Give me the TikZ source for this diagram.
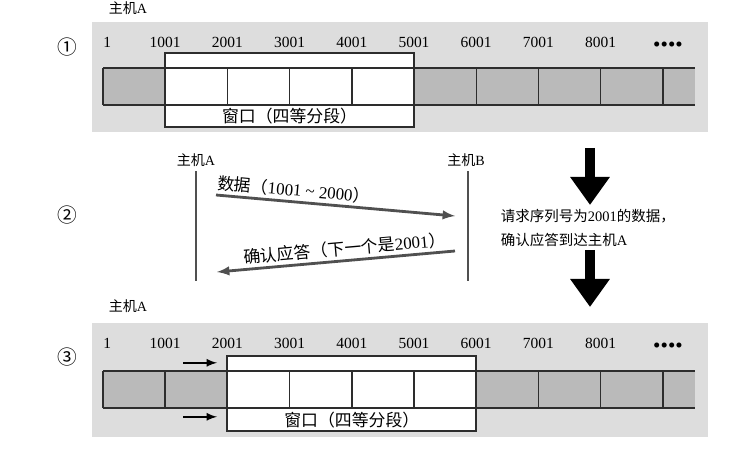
\documentclass[tikz,border=0pt]{standalone}
\usepackage{fontspec}
\setmainfont{Liberation Serif}
\newfontfamily\cjk{Noto Sans CJK SC}
\usetikzlibrary{arrows.meta}
\usetikzlibrary{calc}
\tikzset{>=latex}
\definecolor{panelgray}{RGB}{221,221,221}
\definecolor{cellgray}{RGB}{186,186,186}
\definecolor{framegray}{RGB}{45,45,45}
\definecolor{msggray}{RGB}{80,80,80}
\tikzstyle{panel}=[fill=panelgray]
\tikzstyle{cell}=[fill=cellgray]
\tikzstyle{cellline}=[draw=framegray,line width=1pt]
\tikzstyle{winbox}=[fill=white,draw=framegray,line width=1.3pt]
\tikzstyle{seqnum}=[font=\fontsize{11}{13}\selectfont,inner sep=0pt]
\tikzstyle{zh}=[font=\cjk\fontsize{10}{12}\selectfont]
\tikzstyle{zhbig}=[font=\cjk\fontsize{12}{14}\selectfont]
\tikzstyle{stepno}=[font=\cjk\fontsize{14}{16}\selectfont]
\tikzstyle{msg}=[draw=msggray,line width=2pt,->]
\tikzstyle{lifeline}=[draw=msggray,line width=2pt]
\tikzstyle{slide}=[draw=black,line width=1.5pt,->]
\tikzstyle{bigarrow}=[draw=black,line width=7pt,-{Triangle[width=27pt,length=20pt]}]

\begin{document}
\begin{tikzpicture}
  \useasboundingbox (0,0) rectangle (18.65,11.2);

  % (1) window at 1001
  \node[stepno] (step1) at (1.675,10.025) {①};
  \node[zh] (hostA1) at (3.2,11.0) {主机\rmfamily A};
  \fill[panel] (2.3,7.9) rectangle (17.7,10.65);
  \fill[cell] (2.575,8.575) rectangle (17.375,9.5);
  \draw[winbox] (4.13,8.025) rectangle (10.35,9.875) node[zhbig,pos=.5,yshift=-0.65cm] (win1) {窗口（四等分段）};
  \draw[cellline] (2.575,8.575) -- (17.375,8.575) (2.575,9.5) -- (17.375,9.5);
  \foreach \i in {0,...,9} \draw[cellline] ({2.575+1.555*\i},8.575) -- +(0,0.925);
  \node[seqnum,anchor=west] (n1-0) at (2.575,10.15) {1};
  \foreach \i in {1,...,8} \node[seqnum] (n1-\i) at ({2.575+1.555*\i},10.15) {\i001};
  \node[seqnum,font=\fontsize{15}{17}\selectfont] (more1) at (16.7,10.02) {••••};

  % (2) data and ack
  \node[stepno] (step2) at (1.675,5.825) {②};
  \node[zh] (hostA) at (4.9,7.2) {主机\rmfamily A};
  \node[zh] (hostB) at (11.65,7.2) {主机\rmfamily B};
  \coordinate (endA) at (4.9,4.175);
  \coordinate (endB) at (11.7,4.175);
  \draw[lifeline] (hostA.south) -- (endA);
  \draw[lifeline] (hostB.south -| endB) -- (endB);
  \coordinate (dataS) at (5.4,6.325);
  \coordinate (dataE) at (11.375,5.8);
  \draw[msg] (dataS) -- (dataE) node[zhbig,pos=0.32,above,sloped,inner sep=2pt] (data) {数据（\rmfamily 1001 \textasciitilde{} 2000\cjk ）};
  \coordinate (ackS) at (5.425,4.4);
  \coordinate (ackE) at (11.375,4.925);
  \draw[msg,<-] (ackS) -- (ackE) node[zhbig,pos=0.54,above,sloped,inner sep=2pt] (ack) {确认应答（下一个是\rmfamily 2001\cjk ）};

  \coordinate (reqTop) at (14.75,7.5);
  \coordinate (reqTip) at (14.75,6.075);
  \draw[bigarrow] (reqTop) -- (reqTip);
  \node[zh,font=\cjk\fontsize{10.3}{17}\selectfont,anchor=west,align=left] (note) at (12.4,5.5) {请求序列号为\rmfamily 2001\cjk 的数据，\\确认应答到达主机\rmfamily A};
  \coordinate (moveTop) at (14.75,4.95);
  \coordinate (moveTip) at (14.75,3.525);
  \draw[bigarrow] (moveTop) -- (moveTip);

  % (3) window slid to 2001
  \node[stepno] (step3) at (1.675,2.275) {③};
  \node[zh] (hostA3) at (3.2,3.55) {主机\rmfamily A};
  \fill[panel] (2.3,0.275) rectangle (17.7,3.125);
  \fill[cell] (2.575,1.0) rectangle (17.375,1.925);
  \draw[winbox] (5.685,0.425) rectangle (11.905,2.3) node[zhbig,pos=.5,yshift=-0.67cm] (win3) {窗口（四等分段）};
  \draw[cellline] (2.575,1.0) -- (17.375,1.0) (2.575,1.925) -- (17.375,1.925);
  \foreach \i in {0,...,9} \draw[cellline] ({2.575+1.555*\i},1.0) -- +(0,0.925);
  \node[seqnum,anchor=west] (n3-0) at (2.575,2.625) {1};
  \foreach \i in {1,...,8} \node[seqnum] (n3-\i) at ({2.575+1.555*\i},2.625) {\i001};
  \node[seqnum,font=\fontsize{15}{17}\selectfont] (more3) at (16.7,2.5) {••••};
  \coordinate (slideA) at (4.575,2.13);
  \coordinate (slideB) at (5.425,2.13);
  \coordinate (slideC) at (4.575,0.78);
  \coordinate (slideD) at (5.425,0.78);
  \draw[slide] (slideA) -- (slideB);
  \draw[slide] (slideC) -- (slideD);
\end{tikzpicture}
\end{document}
